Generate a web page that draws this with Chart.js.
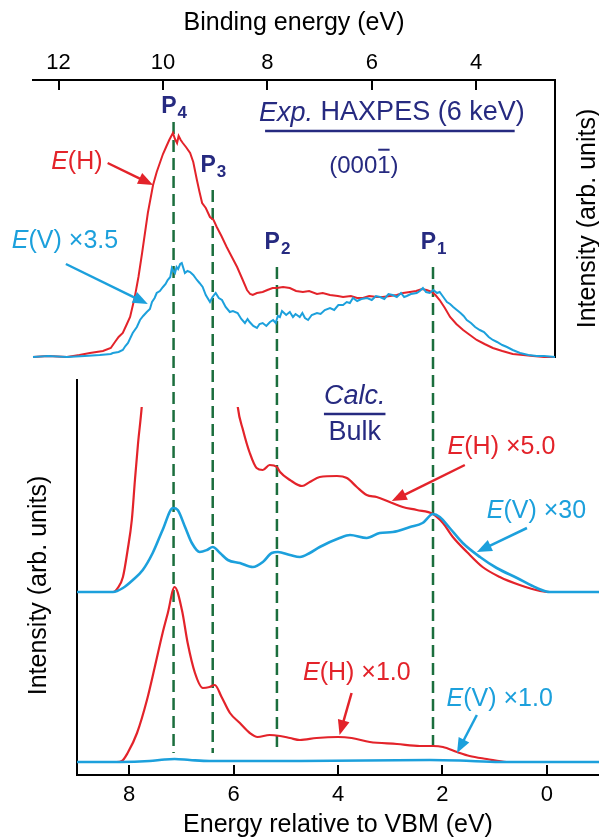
<!DOCTYPE html>
<html>
<head>
<meta charset="utf-8">
<script src="https://cdn.jsdelivr.net/npm/chart.js@4.4.1/dist/chart.umd.min.js"></script>
<style>
  html, body { margin: 0; padding: 0; background: #fff; }
  #wrap { position: relative; width: 599px; height: 840px; }
  #wrap canvas { position: absolute; left: 0; top: 0; }
</style>
</head>
<body>
<div id="wrap">
  <canvas id="calc" width="599" height="840"></canvas>
  <canvas id="exp" width="599" height="840"></canvas>
</div>
<script>
var RED = '#e3232a';
var BLUE = '#1ca0dc';
var NAVY = '#262a80';
var GREEN = '#1b6e3d';
var FONT = "'Liberation Sans', Arial, Helvetica, sans-serif";

// axis ticks
var BIND_TICKS = [12, 10, 8, 6, 4];
var VBM_TICKS = [8, 6, 4, 2, 0];

// Exp. HAXPES (6 keV), binding energy (eV) vs intensity
var EXP_H_BE = [12.49, 12.2, 11.84, 11.6, 11.4, 11.15, 11.0, 10.92, 10.85, 10.77, 10.7, 10.63, 10.54, 10.47, 10.4,
  10.29, 10.19, 10.12, 10.06, 10.0, 9.94, 9.88, 9.81, 9.77, 9.73, 9.7, 9.66, 9.62, 9.56, 9.48, 9.42, 9.35, 9.3,
  9.25, 9.18, 9.1, 9.03, 8.97, 8.88, 8.78, 8.68, 8.58, 8.48, 8.39, 8.33, 8.28, 8.2, 8.09, 8.0, 7.9, 7.82, 7.7,
  7.57, 7.45, 7.32, 7.2, 7.05, 6.94, 6.8, 6.65, 6.55, 6.4, 6.28, 6.17, 6.05, 5.9, 5.79, 5.65, 5.52, 5.4, 5.27,
  5.15, 5.04, 4.95, 4.85, 4.78, 4.7, 4.6, 4.5, 4.38, 4.25, 4.12, 3.99, 3.84, 3.68, 3.5, 3.3, 3.1, 2.91, 2.7, 2.49];
var EXP_H_INT = [0, 1, 0, 2, 4, 6, 9, 15, 20, 24, 32, 40, 60, 80, 104,
  144, 172, 185, 194, 203, 210, 217, 224, 218, 214, 221, 217, 214, 210, 204, 195, 177, 165,
  154, 149, 140, 137, 130, 121, 110, 100, 90, 78, 67, 63, 62, 64, 65, 67, 69, 69, 70,
  69, 66, 65, 66, 63, 64, 62, 61, 60, 61, 59, 59, 61, 60, 60, 61, 62, 64, 65,
  66, 68, 67, 65, 62, 57, 49, 40, 33, 27, 22, 17, 13, 9, 6, 3, 2, 1, 0, 0];

var EXP_V_BE = [12.49, 12.2, 11.84, 11.5, 11.21, 11.0, 10.96, 10.85, 10.77, 10.72, 10.67, 10.58, 10.5, 10.44,
  10.38, 10.31, 10.25, 10.21, 10.16, 10.12, 10.06, 10.0, 9.95, 9.91, 9.86, 9.83, 9.8, 9.77, 9.74, 9.71, 9.67,
  9.64, 9.61, 9.58, 9.53, 9.48, 9.42, 9.35, 9.3, 9.24, 9.18, 9.1, 9.05, 8.99, 8.93, 8.87, 8.8, 8.72, 8.66, 8.57,
  8.5, 8.43, 8.38, 8.34, 8.27, 8.2, 8.15, 8.09, 8.02, 7.95, 7.89, 7.84, 7.8, 7.76, 7.72, 7.7, 7.64, 7.57, 7.51,
  7.46, 7.38, 7.33, 7.28, 7.22, 7.15, 7.05, 6.98, 6.9, 6.8, 6.72, 6.64, 6.55, 6.48, 6.42, 6.36, 6.28, 6.2, 6.09,
  6.0, 5.92, 5.84, 5.76, 5.68, 5.6, 5.52, 5.44, 5.38, 5.33, 5.25, 5.14, 5.08, 5.02, 4.96, 4.89, 4.82, 4.75, 4.7,
  4.63, 4.56, 4.5, 4.44, 4.37, 4.3, 4.24, 4.18, 4.1, 4.02, 3.93, 3.85, 3.76, 3.68, 3.6, 3.5, 3.41, 3.3, 3.16,
  3.0, 2.84, 2.7, 2.49];
var EXP_V_INT = [0, 1, 0, 1, 2, 3, 4, 5, 7, 11, 14, 24, 30, 37,
  41, 45, 48, 55, 59, 64, 66, 70, 73, 77, 80, 89, 86, 84, 90, 88, 93,
  94, 89, 84, 86, 85, 82, 77, 74, 70, 62, 55, 60, 64, 59, 57, 50, 45, 46, 44,
  38, 34, 38, 35, 31, 29, 33, 34, 31, 35, 37, 34, 41, 40, 46, 45, 42, 45, 40,
  43, 40, 44, 39, 37, 42, 44, 43, 47, 49, 47, 52, 52, 55, 54, 59, 56, 58, 59,
  57, 61, 60, 58, 63, 62, 60, 64, 60, 61, 63, 64, 66, 69, 65, 64, 67, 64, 65,
  60, 55, 53, 50, 47, 44, 41, 37, 34, 30, 27, 25, 20, 17, 15, 12, 10, 7, 4,
  2, 1, 1, 0];

// Calc. bulk, energy relative to VBM (eV) vs intensity
var CALC_H5_E = [9.0, 8.31, 8.22, 8.12, 8.03, 7.95, 7.89, 7.83, 7.76, 7.66, 7.51, 7.36, 7.13, 6.93, 6.74, 6.51,
  6.36, 6.11, 5.92, 5.82, 5.69, 5.56, 5.44, 5.31, 5.17, 5.11, 4.92, 4.69, 4.54, 4.35, 4.02, 3.83, 3.64, 3.45,
  3.26, 3.01, 2.76, 2.49, 2.18, 1.99, 1.8, 1.53, 1.23, 0.9, 0.52, 0.13, -0.06, -1.0];
var CALC_H5_INT = [0, 0, 4, 15, 42, 72, 112, 149, 185, 260, 475, 645, 875, 640, 445, 375,
  385, 300, 185, 162, 139, 124, 122, 127, 125, 120, 112, 106, 110, 115, 116, 114, 105, 97,
  95, 90, 85, 82, 78, 69, 55, 40, 25, 15, 7, 1, 0, 0];

var CALC_V30_E = [9.0, 8.31, 8.12, 7.93, 7.74, 7.55, 7.36, 7.16, 7.07, 6.93, 6.8, 6.65, 6.51, 6.4, 6.26, 6.11,
  5.88, 5.63, 5.44, 5.27, 5.15, 4.92, 4.73, 4.54, 4.35, 3.97, 3.77, 3.45, 3.2, 2.95, 2.62, 2.38, 2.18, 2.05,
  1.86, 1.61, 1.28, 0.96, 0.57, 0.19, -0.06, -1.0];
var CALC_V30_INT = [0, 0, 4, 12, 22, 39, 62, 84, 82, 65, 49, 40, 42, 45, 39, 32,
  29, 25, 30, 39, 40, 37, 35, 39, 45, 54, 57, 54, 59, 60, 65, 69, 78, 75,
  64, 49, 35, 24, 14, 4, 0, 0];

var CALC_H1_E = [9.0, 8.24, 8.14, 8.03, 7.85, 7.66, 7.51, 7.36, 7.26, 7.13, 6.99, 6.88, 6.74, 6.59, 6.46, 6.36,
  6.23, 6.07, 5.88, 5.69, 5.54, 5.31, 5.11, 4.92, 4.73, 4.41, 4.0, 3.74, 3.39, 2.87, 2.43, 2.18, 1.99, 1.72,
  1.48, 1.15, 0.77, 0.27, -1.0];
var CALC_H1_INT = [0, 0, 1, 9, 29, 62, 95, 129, 149, 175, 152, 119, 89, 74, 75, 77,
  65, 49, 39, 29, 25, 27, 26, 24, 22, 24, 25, 24, 20, 18, 16, 16, 15, 10,
  6, 3, 0, 0, 0];

var CALC_V1_E = [9.0, 8.18, 7.61, 7.32, 7.13, 6.84, 6.46, 4.73, 2.24, 1.67, 0.9, -1.0];
var CALC_V1_INT = [0, 0, 1, 2.5, 3, 2, 1, 1, 2, 1.5, 0, 0];

// peak positions P1..P4 (energy relative to VBM, eV)
var PEAK_NAMES = ['1', '2', '3', '4'];
var PEAK_E = [2.18, 5.17, 6.40, 7.15];

// ---- layout (upper calc axis units) ----
var GUIDE_TOP = [325, 325, 402, 470];
var GUIDE_BOTTOM = -161;
var PEAK_LABEL_Y = [343, 343, 420, 479];

// annotations, positioned in axis units
var NOTES = {
  exp: [
    { x: 11.65, y: 195, align: 'center', color: RED, parts: [{ t: 'E', it: true }, { t: '(H)' }],
      arrow: [11.06, 194, 10.19, 172] },
    { x: 12.895, y: 116, align: 'left', color: BLUE, parts: [{ t: 'E', it: true }, { t: '(V) \u00d73.5' }],
      arrow: [11.86, 93, 10.29, 53] },
    { x: 5.615, y: 244, align: 'center', color: NAVY, size: 27, underline: [6, 10],
      parts: [{ t: 'Exp.', it: true }, { t: ' HAXPES (6 keV)' }] },
    { x: 6.151, y: 191, align: 'center', color: NAVY, size: 24,
      parts: [{ t: '(000' }, { t: '1', bar: true }, { t: ')' }] }
  ],
  calc: [
    { x: 3.68, y: 196, align: 'center', color: NAVY, size: 27, underline: [0, 0], parts: [{ t: 'Calc.', it: true }] },
    { x: 3.68, y: 159, align: 'center', color: NAVY, size: 27, parts: [{ t: 'Bulk' }] },
    { x: 1.90, y: 145, align: 'left', color: RED, parts: [{ t: 'E', it: true }, { t: '(H) \u00d75.0' }],
      arrow: [1.57, 127, 2.97, 91] },
    { x: 1.15, y: 81, align: 'left', color: BLUE, parts: [{ t: 'E', it: true }, { t: '(V) \u00d730' }],
      arrow: [0.38, 64, 1.34, 40] },
    { x: 4.67, y: 89, axis: 'yl', align: 'left', color: RED, parts: [{ t: 'E', it: true }, { t: '(H) \u00d71.0' }],
      arrow: [3.74, 69, 3.97, 27] },
    { x: 1.92, y: 63, axis: 'yl', align: 'left', color: BLUE, parts: [{ t: 'E', it: true }, { t: '(V) \u00d71.0' }],
      arrow: [1.34, 47, 1.72, 9] }
  ]
};

function pts(xs, ys) {
  return xs.map(function (x, i) { return { x: x, y: ys[i] }; });
}

function fixedTicks(values) {
  return function (scale) {
    scale.ticks = values.map(function (v) { return { value: v }; });
  };
}

function drawRich(ctx, parts, x, y, size, align, bold) {
  var w = 0;
  parts.forEach(function (p) {
    ctx.font = (p.it ? 'italic ' : '') + (bold ? 'bold ' : '') + size + 'px ' + FONT;
    p.w = ctx.measureText(p.t).width;
    w += p.w;
  });
  var left = align === 'center' ? x - w / 2 : (align === 'right' ? x - w : x);
  var cx = left;
  ctx.textAlign = 'left';
  parts.forEach(function (p) {
    ctx.font = (p.it ? 'italic ' : '') + (bold ? 'bold ' : '') + size + 'px ' + FONT;
    ctx.fillText(p.t, cx, y);
    if (p.bar) {
      ctx.fillRect(cx + 1, y - size * 0.72, p.w - 2, 2);
    }
    cx += p.w;
  });
  return { left: left, width: w };
}

function drawArrow(ctx, x1, y1, x2, y2, color) {
  var a = Math.atan2(y2 - y1, x2 - x1);
  var hl = 15, hw = 6;
  ctx.strokeStyle = color;
  ctx.fillStyle = color;
  ctx.lineWidth = 2.5;
  ctx.beginPath();
  ctx.moveTo(x1, y1);
  ctx.lineTo(x2 - Math.cos(a) * (hl - 2), y2 - Math.sin(a) * (hl - 2));
  ctx.stroke();
  ctx.beginPath();
  ctx.moveTo(x2, y2);
  ctx.lineTo(x2 - Math.cos(a) * hl - Math.sin(a) * hw, y2 - Math.sin(a) * hl + Math.cos(a) * hw);
  ctx.lineTo(x2 - Math.cos(a) * hl + Math.sin(a) * hw, y2 - Math.sin(a) * hl - Math.cos(a) * hw);
  ctx.closePath();
  ctx.fill();
}

function drawVerticalTitle(ctx, text, x, y) {
  ctx.save();
  ctx.fillStyle = '#000';
  ctx.font = '25px ' + FONT;
  ctx.textAlign = 'center';
  ctx.textBaseline = 'middle';
  ctx.translate(x, y);
  ctx.rotate(-Math.PI / 2);
  ctx.fillText(text, 0, 0);
  ctx.restore();
}

/** Tick marks pointing into the plot. */
var innerTicks = {
  id: 'innerTicks',
  afterDraw: function (chart) {
    var ctx = chart.ctx;
    var area = chart.chartArea;
    ctx.save();
    ctx.strokeStyle = '#000';
    ctx.lineWidth = 2;
    ['xb', 'xe'].forEach(function (id) {
      var s = chart.scales[id];
      if (!s) return;
      s.ticks.forEach(function (t) {
        var px = Math.round(s.getPixelForValue(t.value));
        ctx.beginPath();
        if (s.options.position === 'top') {
          ctx.moveTo(px, area.top);
          ctx.lineTo(px, area.top + 10);
        } else {
          ctx.moveTo(px, area.bottom);
          ctx.lineTo(px, area.bottom - 10);
        }
        ctx.stroke();
      });
    });
    ctx.restore();
  }
};

/** Text labels, arrows and peak markers. */
var notesPlugin = {
  id: 'notes',
  afterDraw: function (chart) {
    var ctx = chart.ctx;
    var key = chart.canvas.id;
    var xs = chart.scales[key === 'exp' ? 'xb' : 'xe'];
    var area = chart.chartArea;
    ctx.save();
    ctx.textBaseline = 'middle';
    NOTES[key].forEach(function (n) {
      var ys = chart.scales[n.axis || (key === 'exp' ? 'yt' : 'yu')];
      var size = n.size || 25;
      ctx.fillStyle = n.color;
      var px = xs.getPixelForValue(n.x), py = ys.getPixelForValue(n.y);
      var box = drawRich(ctx, n.parts, px, py, size, n.align, false);
      if (n.underline) {
        ctx.fillRect(box.left + n.underline[0], py + size * 0.62, box.width - n.underline[0] - n.underline[1], 2.5);
      }
      if (n.arrow) {
        drawArrow(ctx, xs.getPixelForValue(n.arrow[0]), ys.getPixelForValue(n.arrow[1]),
          xs.getPixelForValue(n.arrow[2]), ys.getPixelForValue(n.arrow[3]), n.color);
      }
    });

    if (key === 'exp') {
      // right axis title, reading bottom to top
      drawVerticalTitle(ctx, 'Intensity (arb. units)', 588, (area.top + area.bottom) / 2);
    } else {
      drawVerticalTitle(ctx, 'Intensity (arb. units)', 39, (area.top + area.bottom) / 2 + 8);
      var yu = chart.scales.yu;
      ctx.fillStyle = NAVY;
      ctx.textBaseline = 'alphabetic';
      PEAK_E.forEach(function (e, i) {
        var px = xs.getPixelForValue(e), py = yu.getPixelForValue(PEAK_LABEL_Y[i]);
        ctx.font = 'bold 23px ' + FONT;
        ctx.textAlign = 'right';
        ctx.fillText('P', px + 3, py);
        ctx.font = 'bold 17px ' + FONT;
        ctx.textAlign = 'left';
        ctx.fillText(PEAK_NAMES[i], px + 4, py + 5);
      });
    }
    ctx.restore();
  }
};

var axisBorder = { display: true, color: '#000', width: 2 };
var noGrid = { display: true, drawOnChartArea: false, drawTicks: false };

// upper panel: experiment
new Chart(document.getElementById('exp'), {
  type: 'line',
  data: {
    datasets: [
      { data: pts(EXP_V_BE, EXP_V_INT), borderColor: BLUE, borderWidth: 2, pointRadius: 0, tension: 0,
        xAxisID: 'xb', yAxisID: 'yt', clip: false },
      { data: pts(EXP_H_BE, EXP_H_INT), borderColor: RED, borderWidth: 2, pointRadius: 0, tension: 0,
        xAxisID: 'xb', yAxisID: 'yt', clip: false }
    ]
  },
  options: {
    responsive: false,
    animation: false,
    devicePixelRatio: 1,
    layout: { padding: { left: 33, top: 0, right: 0, bottom: 483 } },
    plugins: { legend: { display: false }, tooltip: { enabled: false } },
    scales: {
      xb: {
        type: 'linear', position: 'top', min: 2.49, max: 12.49, reverse: true,
        afterBuildTicks: fixedTicks(BIND_TICKS),
        afterFit: function (s) { s.height = 80; },
        grid: noGrid, border: axisBorder,
        ticks: { color: '#000', font: { family: FONT, size: 22 }, padding: 4, maxRotation: 0 },
        title: { display: true, text: 'Binding energy (eV)', color: '#000',
          font: { family: FONT, size: 25 }, padding: { top: 8, bottom: 0 } }
      },
      yt: {
        type: 'linear', position: 'right', min: 0, max: 277,
        afterFit: function (s) { s.width = 44; },
        grid: noGrid, border: axisBorder,
        ticks: { display: false }
      }
    }
  },
  plugins: [innerTicks, notesPlugin]
});

// lower panel: calculation
var guideSets = PEAK_E.map(function (e, i) {
  return {
    data: [{ x: e, y: GUIDE_TOP[i] }, { x: e, y: GUIDE_BOTTOM }],
    borderColor: GREEN, borderWidth: 2.5, borderDash: [12, 6], pointRadius: 0,
    xAxisID: 'xe', yAxisID: 'yu', clip: false
  };
});

new Chart(document.getElementById('calc'), {
  type: 'line',
  data: {
    datasets: [
      { data: pts(CALC_V30_E, CALC_V30_INT), borderColor: BLUE, borderWidth: 2.6, pointRadius: 0,
        cubicInterpolationMode: 'monotone', xAxisID: 'xe', yAxisID: 'yu' },
      { data: pts(CALC_H5_E, CALC_H5_INT), borderColor: RED, borderWidth: 2.2, pointRadius: 0,
        cubicInterpolationMode: 'monotone', xAxisID: 'xe', yAxisID: 'yu',
        clip: { left: 0, top: -27, right: 0, bottom: 0 } },
      { data: pts(CALC_V1_E, CALC_V1_INT), borderColor: BLUE, borderWidth: 2.6, pointRadius: 0,
        cubicInterpolationMode: 'monotone', xAxisID: 'xe', yAxisID: 'yl' },
      { data: pts(CALC_H1_E, CALC_H1_INT), borderColor: RED, borderWidth: 2.2, pointRadius: 0,
        cubicInterpolationMode: 'monotone', xAxisID: 'xe', yAxisID: 'yl' }
    ].concat(guideSets)
  },
  options: {
    responsive: false,
    animation: false,
    devicePixelRatio: 1,
    layout: { padding: { left: 0, top: 380, right: 0, bottom: 0 } },
    plugins: { legend: { display: false }, tooltip: { enabled: false } },
    scales: {
      xe: {
        type: 'linear', position: 'bottom', min: -1, max: 9, reverse: true,
        afterBuildTicks: fixedTicks(VBM_TICKS),
        afterFit: function (s) { s.height = 65; },
        grid: noGrid, border: axisBorder,
        ticks: { color: '#000', font: { family: FONT, size: 22 }, padding: 7, maxRotation: 0 },
        title: { display: true, text: 'Energy relative to VBM (eV)', color: '#000',
          font: { family: FONT, size: 25 }, padding: { top: 0, bottom: 0 } }
      },
      yu: {
        type: 'linear', position: 'left', min: -183, max: 212,
        afterFit: function (s) { s.width = 77; },
        grid: noGrid, border: axisBorder,
        ticks: { display: false }
      },
      yl: { type: 'linear', display: false, min: -13, max: 382 }
    }
  },
  plugins: [innerTicks, notesPlugin]
});
</script>
</body>
</html>
